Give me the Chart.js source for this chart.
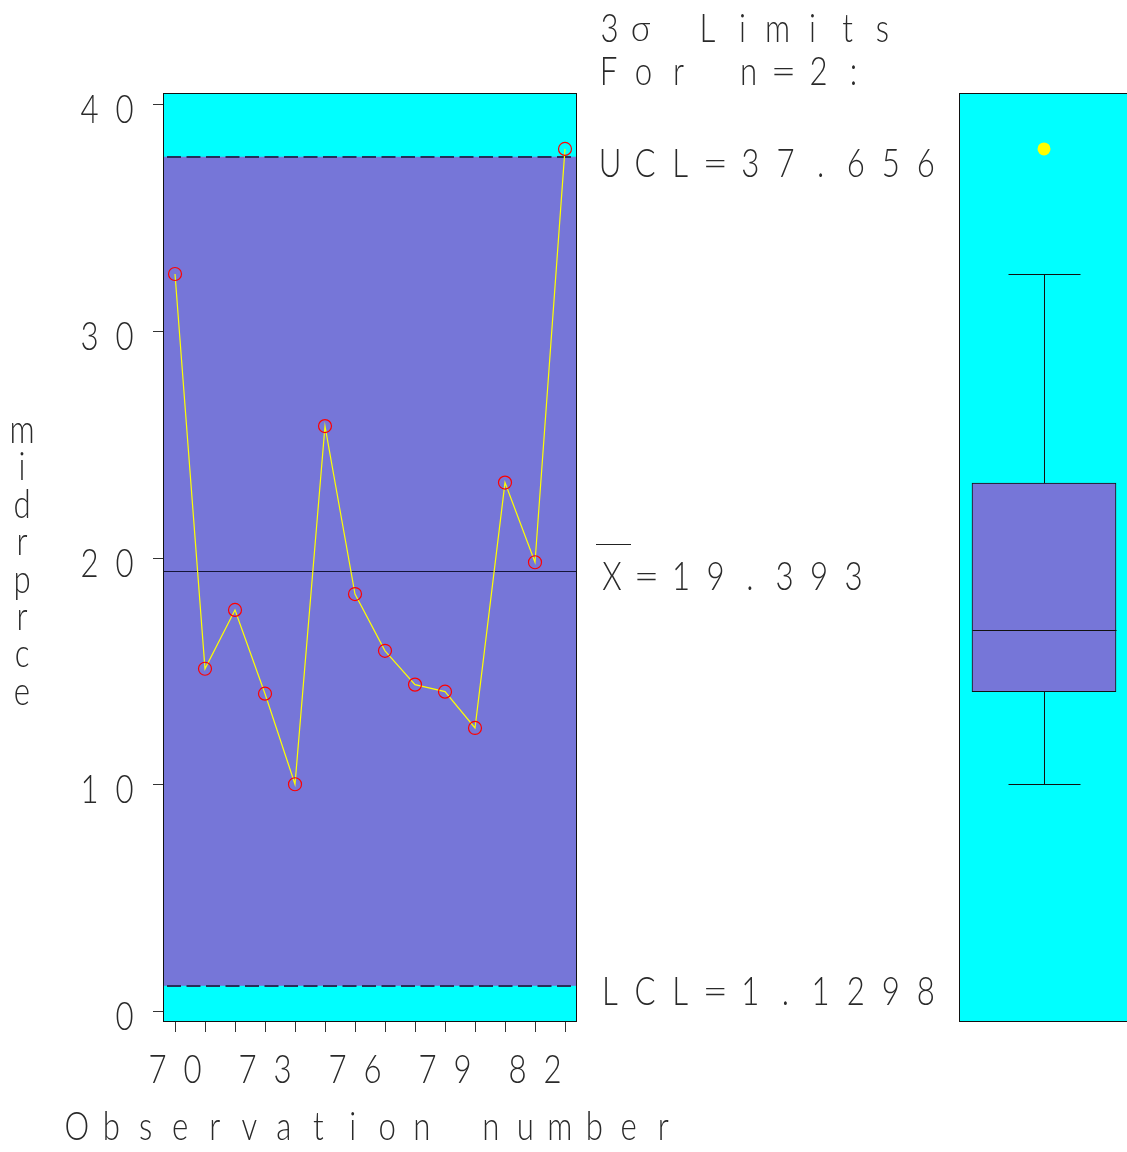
<!DOCTYPE html>
<html>
<head>
<meta charset="utf-8">
<script src="https://cdn.jsdelivr.net/npm/chart.js@4.4.0/dist/chart.umd.min.js"></script>
<style>
  html, body { margin:0; padding:0; background:#fff; overflow:hidden; }
  #wrap { position:relative; width:1127px; height:1152px; }
  #c1 { position:absolute; left:0; top:0; width:1127px; height:1152px; }
  #c2 { position:absolute; left:959px; top:0; width:170px; height:1152px; }
</style>
</head>
<body>
<div id="wrap">
  <canvas id="c1" width="1127" height="1152"></canvas>
  <canvas id="c2" width="170" height="1152"></canvas>
</div>
<script>
// ── X-bar control chart (n=2) + box plot of midrprce ─────────

var obs       = [70, 71, 72, 73, 74, 75, 76, 77, 78, 79, 80, 81, 82, 83];
var midrprce  = [32.49, 15.10, 17.69, 14.00, 10.01, 25.79, 18.39, 15.89, 14.40, 14.09, 12.49, 23.30, 19.79, 38.00];
var yTicks    = [0, 10, 20, 30, 40];
var xTickShow = [70, 73, 76, 79, 82];

var UCL  = 37.656;
var LCL  = 1.1298;
var XBAR = 19.393;

// box plot summary
var boxLabel = ['midrprce'];
var boxLo    = [10.01];
var boxQ1    = [14.09];
var boxMed   = [16.81];
var boxQ3    = [23.28];
var boxHi    = [32.49];
var boxOut   = [38.00];

var Y_MIN = -0.463, Y_MAX = 40.463;

var CYAN   = '#00ffff';
var VIOLET = '#7676d8';
var INK    = '#2a2a2a';
var FONT   = '300 40px Lato, "DejaVu Sans", sans-serif';

function g(id) { return document.getElementById(id); }

// draws text one glyph per cell, like the SAS hardware font
function spaced(ctx, str, cx0, base, pitch, sx) {
  ctx.save();
  ctx.font = FONT;
  ctx.fillStyle = INK;
  ctx.textAlign = 'center';
  ctx.textBaseline = 'alphabetic';
  for (var i = 0; i < str.length; i++) {
    var ch = str.charAt(i);
    if (ch === ' ') continue;
    ctx.save();
    ctx.translate(cx0 + i * pitch, base);
    ctx.scale(ch === '=' ? 1.1 : (sx || 0.78), 1);
    ctx.fillText(ch, 0, 0);
    ctx.restore();
  }
  ctx.restore();
}

function hline(ctx, x1, x2, y, color, dash, lw) {
  ctx.save();
  ctx.strokeStyle = color;
  ctx.lineWidth = lw || 1;
  ctx.setLineDash(dash || []);
  ctx.lineDashOffset = dash ? -4 : 0;
  ctx.beginPath();
  var yy = lw === 2 ? Math.round(y) : Math.round(y) + 0.5;
  ctx.moveTo(x1, yy);
  ctx.lineTo(x2, yy);
  ctx.stroke();
  ctx.restore();
}

var panelPlugin = {
  id: 'panel',
  beforeDatasetsDraw: function(chart) {
    var ctx = chart.ctx, ca = chart.chartArea, y = chart.scales.y;
    ctx.save();
    ctx.fillStyle = CYAN;
    ctx.fillRect(ca.left, ca.top, ca.right - ca.left, ca.bottom - ca.top);
    ctx.fillStyle = VIOLET;
    ctx.fillRect(ca.left, y.getPixelForValue(UCL), ca.right - ca.left,
                 y.getPixelForValue(LCL) - y.getPixelForValue(UCL));
    ctx.restore();
    hline(ctx, ca.left, ca.right, y.getPixelForValue(UCL), '#26305a', [14, 5.5], 2);
    hline(ctx, ca.left, ca.right, y.getPixelForValue(LCL), '#26305a', [14, 5.5], 2);
    hline(ctx, ca.left, ca.right, y.getPixelForValue(XBAR), '#15153a');
  },
  afterDatasetsDraw: function(chart) {
    var ctx = chart.ctx, ca = chart.chartArea, x = chart.scales.x, y = chart.scales.y;
    ctx.save();
    ctx.strokeStyle = '#111';
    ctx.lineWidth = 1;
    ctx.strokeRect(ca.left + 0.5, ca.top + 0.5, ca.right - ca.left - 1, ca.bottom - ca.top - 1);

    // tick marks
    ctx.strokeStyle = '#333';
    ctx.beginPath();
    yTicks.forEach(function(v) {
      var py = Math.round(y.getPixelForValue(v)) + 0.5;
      ctx.moveTo(ca.left - 10, py); ctx.lineTo(ca.left, py);
    });
    obs.forEach(function(v) {
      var px = Math.round(x.getPixelForValue(v)) + 0.5;
      ctx.moveTo(px, ca.bottom); ctx.lineTo(px, ca.bottom + 10);
    });
    ctx.stroke();
    ctx.restore();

    // tick labels
    yTicks.forEach(function(v) {
      var s = String(v);
      spaced(ctx, s, 124.5 - (s.length - 1) * 35, y.getPixelForValue(v) + 19, 35);
    });
    xTickShow.forEach(function(v) {
      var s = String(v);
      spaced(ctx, s, x.getPixelForValue(v) - (s.length - 1) * 35 / 2, ca.bottom + 61, 35);
    });

    // axis titles
    var xt = 'Observation number';
    spaced(ctx, xt, (ca.left + ca.right) / 2 - (xt.length - 1) * 34.5 / 2, 1140, 34.5);
    var yt = 'midrprce';
    for (var i = 0; i < yt.length; i++) spaced(ctx, yt.charAt(i), 22, 443 + i * 37.4, 0);

    // limits annotation
    spaced(ctx, '3', 609.5, 42, 0);
    ctx.save();
    ctx.font = '300 36px Lato, "DejaVu Sans", sans-serif';
    ctx.fillStyle = INK;
    ctx.textAlign = 'center';
    ctx.translate(640.5, 41);
    ctx.scale(0.95, 1);
    ctx.fillText('\u03c3', 0, 0);
    ctx.restore();
    spaced(ctx, 'Limits', 707.5, 42, 35);
    spaced(ctx, 'For n=2:', 608.5, 85, 35);

    var rx = 610;
    spaced(ctx, 'UCL=' + UCL.toFixed(3), rx, y.getPixelForValue(UCL) + 20, 35.1);
    spaced(ctx, 'X=' + XBAR.toFixed(3), 612, y.getPixelForValue(XBAR) + 19, 34.5);
    hline(ctx, 596, 631, y.getPixelForValue(XBAR) - 27, '#222');
    spaced(ctx, 'LCL=' + LCL.toFixed(4), rx, y.getPixelForValue(LCL) + 19, 35.1);
  }
};

new Chart(g('c1').getContext('2d'), {
  type: 'line',
  data: {
    labels: obs,
    datasets: [{
      data: obs.map(function(o, i) { return { x: o, y: midrprce[i] }; }),
      borderColor: '#ffff00',
      borderWidth: 1.2,
      pointRadius: 6.5,
      pointBorderColor: '#ff0000',
      pointBackgroundColor: 'rgba(0,0,0,0)',
      pointBorderWidth: 1.2,
      tension: 0,
      fill: false
    }]
  },
  options: {
    responsive: false,
    animation: false,
    layout: { autoPadding: false, padding: { left: 163, right: 550, top: 93, bottom: 130 } },
    plugins: { legend: { display: false }, tooltip: { enabled: false } },
    scales: {
      x: { type: 'linear', min: 69.6, max: 83.4, display: false },
      y: { type: 'linear', min: Y_MIN, max: Y_MAX, display: false }
    }
  },
  plugins: [panelPlugin]
});

var boxPlugin = {
  id: 'boxpanel',
  beforeDatasetsDraw: function(chart) {
    var ctx = chart.ctx, ca = chart.chartArea;
    ctx.save();
    ctx.fillStyle = CYAN;
    ctx.fillRect(ca.left, ca.top, ca.right - ca.left, ca.bottom - ca.top);
    ctx.strokeStyle = '#111';
    ctx.lineWidth = 1;
    ctx.strokeRect(ca.left + 0.5, ca.top + 0.5, ca.right - ca.left + 4, ca.bottom - ca.top - 1);
    ctx.restore();
  },
  afterDatasetsDraw: function(chart) {
    var ctx = chart.ctx, x = chart.scales.x, y = chart.scales.y;
    ctx.save();
    ctx.strokeStyle = '#111';
    ctx.lineWidth = 1;
    boxLabel.forEach(function(lb, i) {
      var cx = Math.round(x.getPixelForValue(i)) + 0.5;
      var pHi = Math.round(y.getPixelForValue(boxHi[i])) + 0.5;
      var pLo = Math.round(y.getPixelForValue(boxLo[i])) + 0.5;
      var pQ1 = y.getPixelForValue(boxQ1[i]);
      var pQ3 = y.getPixelForValue(boxQ3[i]);
      var pMd = Math.round(y.getPixelForValue(boxMed[i])) + 0.5;
      ctx.beginPath();
      ctx.moveTo(cx, pHi); ctx.lineTo(cx, pQ3);
      ctx.moveTo(cx, pQ1); ctx.lineTo(cx, pLo);
      ctx.moveTo(cx - 36, pHi); ctx.lineTo(cx + 36, pHi);
      ctx.moveTo(cx - 36, pLo); ctx.lineTo(cx + 36, pLo);
      ctx.moveTo(cx - 72, pMd); ctx.lineTo(cx + 72, pMd);
      ctx.stroke();
    });
    ctx.restore();
  }
};

new Chart(g('c2').getContext('2d'), {
  type: 'bar',
  data: {
    labels: boxLabel,
    datasets: [{
      type: 'bar',
      data: boxLabel.map(function(l, i) { return [boxQ1[i], boxQ3[i]]; }),
      backgroundColor: VIOLET,
      borderColor: '#111',
      borderWidth: 1,
      borderSkipped: false,
      barThickness: 144
    }, {
      type: 'line',
      data: boxOut,
      showLine: false,
      pointRadius: 6.5,
      pointBackgroundColor: '#ffff00',
      pointBorderColor: '#ffff00',
      pointBorderWidth: 0
    }]
  },
  options: {
    responsive: false,
    animation: false,
    layout: { autoPadding: false, padding: { left: 0, right: 0, top: 93, bottom: 130 } },
    plugins: { legend: { display: false }, tooltip: { enabled: false } },
    scales: {
      x: { type: 'category', offset: true, display: false },
      y: { type: 'linear', min: Y_MIN, max: Y_MAX, display: false }
    }
  },
  plugins: [boxPlugin]
});
</script>
</body>
</html>
